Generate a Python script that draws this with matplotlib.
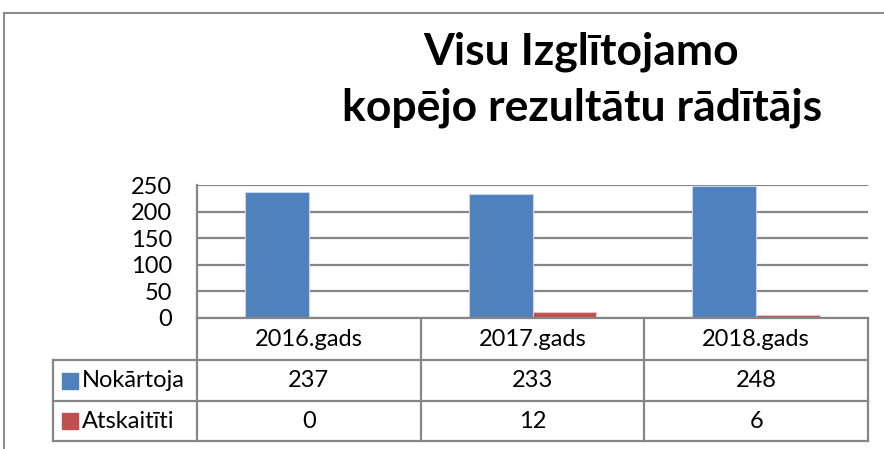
import matplotlib
matplotlib.use("Agg")
import matplotlib.pyplot as plt
from matplotlib.transforms import blended_transform_factory
from matplotlib.patches import Rectangle

plt.rcParams['font.family'] = ['Lato', 'DejaVu Sans']

# data
years = ["2016.gads", "2017.gads", "2018.gads"]
series = ["Nokārtoja", "Atskaitīti"]
nokartoja = [237, 233, 248]
atskaititi = [0, 12, 6]
colors = ["#4F81BD", "#C0504D"]
yticks = [0, 50, 100, 150, 200, 250]

W, H = 884, 449
fig = plt.figure(figsize=(W / 100, H / 100), dpi=100)

# overlay in pixel coordinates (y down)
ov = fig.add_axes([0, 0, 1, 1])
ov.set_xlim(0, W)
ov.set_ylim(H, 0)
ov.axis("off")

grid_c = "#868686"

# outer chart border
ov.plot([4, 884], [13, 13], color="#8c8c8c", lw=1.5)
ov.plot([4, 4], [13, 449], color="#8c8c8c", lw=1.5)

# title
ov.text(581, 52, "Visu Izglītojamo", ha="center", va="center",
        fontsize=32, fontweight="bold")
ov.text(582, 108, "kopējo rezultātu rādītājs", ha="center", va="center",
        fontsize=32, fontweight="bold")

# plot area
left, right, top, bottom = 197, 868, 185, 318
ax = fig.add_axes([left / W, 1 - bottom / H, (right - left) / W, (bottom - top) / H])
ax.set_xlim(-0.5, len(years) - 0.5)
ax.set_ylim(0, 250)
ax.set_yticks(yticks)
ax.set_xticks([])
ax.tick_params(axis="y", length=0, labelsize=17, pad=18)
ax.yaxis.grid(True, color=grid_c, lw=1.6)
ax.set_axisbelow(True)
for s in ["top", "right"]:
    ax.spines[s].set_visible(False)
ax.spines["left"].set_color(grid_c)
ax.spines["bottom"].set_color(grid_c)
ax.spines["left"].set_linewidth(1.6)
ax.spines["bottom"].set_linewidth(1.6)

w = 1 / 3.5
xs = list(range(len(years)))
ax.bar([x - w / 2 for x in xs], nokartoja, width=w, color=colors[0],
       edgecolor="#c6d4e8", linewidth=0.8)
ax.bar([x + w / 2 for x in xs], atskaititi, width=w, color=colors[1],
       edgecolor="#e6c4c3", linewidth=0.8)

# data table
tr = blended_transform_factory(ax.transData, ov.transData)
row_y = [318, 360, 401, 441]
tab_left = 53
n = len(years)
for b in range(n + 1):
    xb = b - 0.5
    ov.plot([xb, xb], [row_y[0], row_y[-1]], color=grid_c, lw=1.6, transform=tr)
for yb in row_y[1:]:
    ov.plot([tab_left, right], [yb, yb], color=grid_c, lw=1.6)
ov.plot([tab_left, tab_left], [row_y[1], row_y[-1]], color=grid_c, lw=1.6)

for i, yr in enumerate(years):
    ov.text(i, (row_y[0] + row_y[1]) / 2, yr, ha="center", va="center",
            fontsize=17, transform=tr)

for r, (name, vals) in enumerate(zip(series, [nokartoja, atskaititi])):
    yc = (row_y[r + 1] + row_y[r + 2]) / 2
    ov.add_patch(Rectangle((62, yc - 8), 16, 16, color=colors[r]))
    ov.text(82, yc, name, ha="left", va="center", fontsize=17)
    for i, v in enumerate(vals):
        ov.text(i, yc, str(v), ha="center", va="center", fontsize=17, transform=tr)

fig.savefig("out.png", dpi=100)
